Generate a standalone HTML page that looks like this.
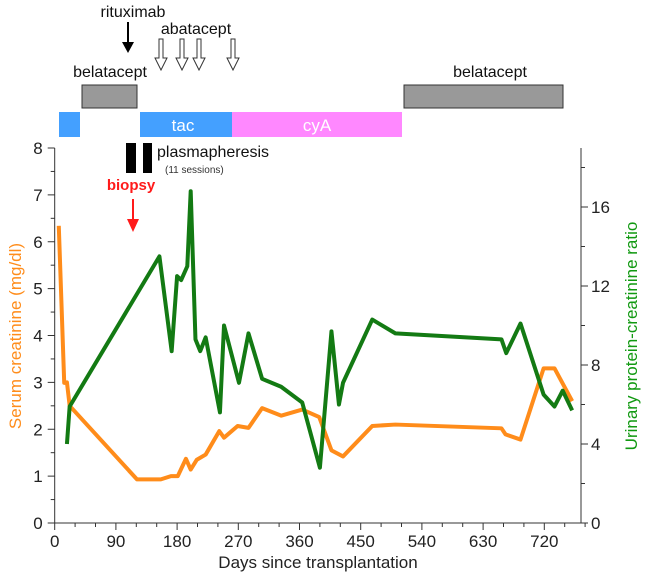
<!DOCTYPE html>
<html><head><meta charset="utf-8"><style>
body{margin:0;background:#fff;font-family:"Liberation Sans",sans-serif;}
svg{display:block}
</style></head><body>
<svg id="c" width="645" height="576" viewBox="0 0 645 576" font-family="Liberation Sans, sans-serif">
<g>
<text x="133" y="17" font-size="16" text-anchor="middle" fill="#111">rituximab</text>
<path d="M127,22 V42 H122 L128,53 L134,42 H129 V22 Z" fill="#000"/>
<text x="196" y="34" font-size="16" text-anchor="middle" fill="#111">abatacept</text>
<g fill="#fff" stroke="#333" stroke-width="1">
<path d="M159,39 V58 H155 L161,70 L167,58 H163 V39 Z"/>
<path d="M180,39 V58 H176 L182,70 L188,58 H184 V39 Z"/>
<path d="M197,39 V58 H193 L199,70 L205,58 H201 V39 Z"/>
<path d="M231,39 V58 H227 L233,70 L239,58 H235 V39 Z"/>
</g>
<text x="110" y="77" font-size="16" text-anchor="middle" fill="#111">belatacept</text>
<rect x="82" y="85" width="55" height="23" fill="#999" stroke="#333"/>
<text x="490" y="77" font-size="16" text-anchor="middle" fill="#111">belatacept</text>
<rect x="404" y="85" width="159" height="23" fill="#999" stroke="#333"/>
<rect x="59" y="112" width="21" height="25" fill="#44a0ff"/>
<rect x="140" y="112" width="92" height="25" fill="#44a0ff"/>
<text x="183" y="131" font-size="17" fill="#fff" text-anchor="middle">tac</text>
<rect x="232" y="112" width="170" height="25" fill="#ff88ff"/>
<text x="317" y="131" font-size="17" fill="#fff" text-anchor="middle">cyA</text>
<rect x="126" y="143" width="10" height="30" fill="#000"/>
<rect x="143" y="143" width="9" height="30" fill="#000"/>
<text x="157" y="157" font-size="16" fill="#111">plasmapheresis</text>
<text x="165" y="173" font-size="10" fill="#333">(11 sessions)</text>
<text x="131" y="190" font-size="15" font-weight="bold" fill="#ff1a1a" text-anchor="middle">biopsy</text>
<path d="M132,199 V219 H127 L133,232 L139,219 H134 V199 Z" fill="#ff1a1a"/>
</g>
<g id="axes"></g>
<g id="series"></g>
<text x="0" y="0" transform="translate(21,336) rotate(-90)" font-size="17" fill="#ff8c1a" text-anchor="middle">Serum creatinine (mg/dl)</text>
<text x="0" y="0" transform="translate(637,336) rotate(-90)" font-size="17" fill="#119911" text-anchor="middle">Urinary protein-creatinine ratio</text>
<text x="318" y="568" font-size="17" fill="#222" text-anchor="middle">Days since transplantation</text>
</svg>
<script>
const xTicks=[0,90,180,270,360,450,540,630,720];
const leftTicks=[0,1,2,3,4,5,6,7,8];
const rightTicks=[0,4,8,12,16];
const creatDays=[6,14,18,22,121,156,171,181,193,200,209,222,242,249,269,285,305,333,364,389,407,424,467,501,657,663,685,719,735,761];
const creatVals=[6.34,2.99,3.0,2.5,0.93,0.93,1.0,1.0,1.37,1.14,1.35,1.46,1.96,1.82,2.07,2.03,2.45,2.29,2.42,2.26,1.55,1.42,2.07,2.10,2.02,1.89,1.78,3.30,3.30,2.60];
const upcrDays=[18,22,154,172,180,186,195,200,207,214,222,243,249,271,285,305,333,364,390,407,418,424,467,501,657,664,685,719,735,747,761];
const upcrVals=[4.0,5.9,13.5,8.7,12.5,12.3,13.0,16.8,9.3,8.7,9.4,5.6,10.0,7.1,9.6,7.3,6.9,6.1,2.8,9.7,6.0,7.1,10.3,9.6,9.3,8.6,10.1,6.5,5.9,6.7,5.7];
const X0=54.7,XR=581,Y0=523,YT=148;
const x=d=>X0+d*0.68;
const yl=v=>Y0-v*(Y0-YT)/8;
const yr=v=>Y0-v*19.75;
const NS="http://www.w3.org/2000/svg";
function mk(t,a,p){const e=document.createElementNS(NS,t);for(const k in a)e.setAttribute(k,a[k]);p.appendChild(e);return e;}
const ax=document.getElementById('axes');
let l=mk('path',{d:`M${X0},${YT} V${Y0} H${XR} V${YT}`,fill:'none',stroke:'#333','stroke-width':1},ax);


for(let d=0;d<=780;d+=30){const t=mk('line',{x1:x(d),x2:x(d),y1:Y0,y2:Y0+(d%90===0?7:4),stroke:'#333'},ax);

}
xTicks.forEach(d=>{const t=mk('text',{x:x(d),y:Y0+24,'font-size':17,'text-anchor':'middle',fill:'#222'},ax);t.textContent=d;

});
for(let v=0;v<=8;v+=0.5){const t=mk('line',{x1:X0,x2:X0-(v%1===0?7:4),y1:yl(v),y2:yl(v),stroke:'#333'},ax);

}
leftTicks.forEach(v=>{const t=mk('text',{x:X0-12,y:yl(v)+6,'font-size':17,'text-anchor':'end',fill:'#222'},ax);t.textContent=v;

});
for(let v=0;v<=18;v+=2){const t=mk('line',{x1:XR,x2:XR+(v%4===0?7:4),y1:yr(v),y2:yr(v),stroke:'#333'},ax);

}
rightTicks.forEach(v=>{const t=mk('text',{x:XR+10,y:yr(v)+6,'font-size':17,fill:'#222'},ax);t.textContent=v;

});
const se=document.getElementById('series');
let p1=mk('polyline',{points:creatDays.map((d,i)=>x(d)+','+yl(creatVals[i])).join(' '),fill:'none',stroke:'#ff8c1a','stroke-width':4,'stroke-linejoin':'round'},se);


let p2=mk('polyline',{points:upcrDays.map((d,i)=>x(d)+','+yr(upcrVals[i])).join(' '),fill:'none',stroke:'#137a13','stroke-width':4,'stroke-linejoin':'round'},se);


</script>
</body></html>
